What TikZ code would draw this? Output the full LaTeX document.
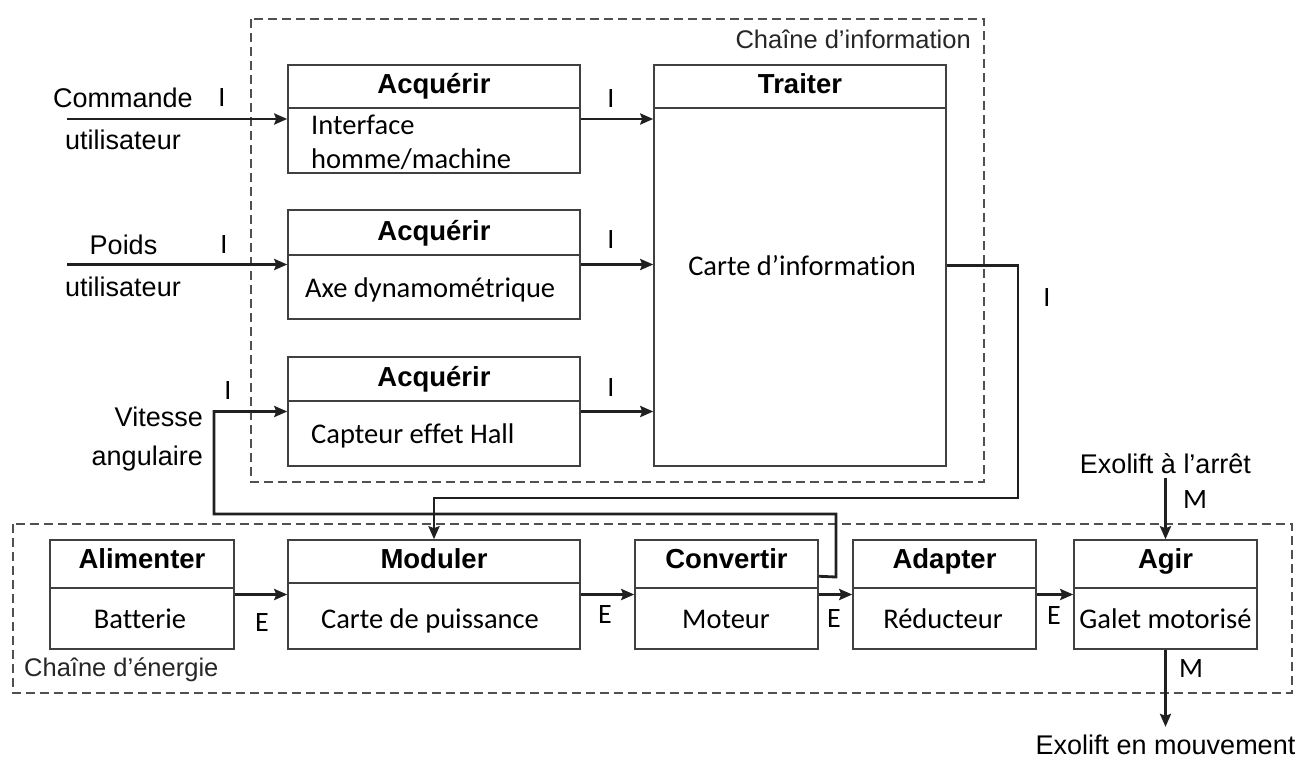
\documentclass[tikz,border=0pt]{standalone}
\usepackage{fontspec}
\setmainfont{Liberation Sans}
\newfontfamily\calfont[Ligatures=NoCommon]{Carlito}
\usetikzlibrary{arrows.meta,calc}
\definecolor{boxcol}{HTML}{404040}
\definecolor{arrcol}{HTML}{202020}
\definecolor{dashcol}{HTML}{505050}
\begin{document}
\begin{tikzpicture}[x=1pt,y=-1pt,
  blk/.style={draw=boxcol, line width=1.5pt, inner sep=0pt, fill=white},
  divl/.style={draw=boxcol, line width=1.5pt},
  ttl/.style={font=\fontsize{27.5}{32}\selectfont\bfseries, inner sep=0pt, anchor=base},
  body/.style={font=\calfont\fontsize{28.5}{34}\selectfont, inner sep=0pt, anchor=base},
  lbl/.style={font=\calfont\fontsize{28}{34}\selectfont, inner sep=0pt},
  ext/.style={font=\fontsize{27}{32}\selectfont, inner sep=0pt},
  chn/.style={font=\fontsize{25.5}{30}\selectfont, inner sep=0pt, text=black!85},
  arr/.style={draw=arrcol, line width=2.8pt, -{Stealth[length=13pt,width=11pt,inset=2pt]}},
  chain/.style={draw=dashcol, line width=1.5pt, dash pattern=on 9pt off 5pt}
]
\useasboundingbox (0,0) rectangle (1312,769);
\fill[white] (0,0) rectangle (1312,769);

% chain frames
\draw[chain] (251,19) rectangle (984,482);
\draw[chain] (13,524) rectangle (1292,693);
\node[chn, anchor=east] (ci) at (971,39) {Chaîne d’information};
\node[chn, anchor=west] (ce) at (24,670) {Chaîne d’énergie};

% information chain blocks
\node[blk, minimum width=292pt, minimum height=108pt] (a1) at (434,119) {};
\draw[divl] (a1.west |- 0,108) -- (a1.east |- 0,108);
\node[ttl] (a1t) at (434,93) {Acquérir};
\node[body, anchor=base west] (a1b) at (311,134) {Interface};
\node[body, anchor=base west] (a1c) at (311,168) {homme/machine};

\node[blk, minimum width=292pt, minimum height=109pt] (a2) at (434,264.5) {};
\draw[divl] (a2.west |- 0,255) -- (a2.east |- 0,255);
\node[ttl] (a2t) at (434,240) {Acquérir};
\node[body, anchor=base west] (a2b) at (305,297) {Axe dynamométrique};

\node[blk, minimum width=292pt, minimum height=109pt] (a3) at (434,411.5) {};
\draw[divl] (a3.west |- 0,401) -- (a3.east |- 0,401);
\node[ttl] (a3t) at (434,386) {Acquérir};
\node[body, anchor=base west] (a3b) at (311,443) {Capteur effet Hall};

\node[blk, minimum width=292pt, minimum height=401pt] (tr) at (800,265.5) {};
\draw[divl] (tr.west |- 0,108) -- (tr.east |- 0,108);
\node[ttl] (trt) at (800,93) {Traiter};
\node[body] (trb) at (802,275) {Carte d’information};

% energy chain blocks
\node[blk, minimum width=184pt, minimum height=109pt] (al) at (142,594.5) {};
\draw[divl] (al.west |- 0,588) -- (al.east |- 0,588);
\node[ttl] (alt) at (142,568) {Alimenter};
\node[body] (alb) at (140,628) {Batterie};

\node[blk, minimum width=292pt, minimum height=109pt] (mo) at (434,594.5) {};
\draw[divl] (mo.west |- 0,583) -- (mo.east |- 0,583);
\node[ttl] (mot) at (434,568) {Moduler};
\node[body] (mob) at (430,628) {Carte de puissance};

\node[blk, minimum width=183pt, minimum height=109pt] (cv) at (726.5,594.5) {};
\draw[divl] (cv.west |- 0,588) -- (cv.east |- 0,588);
\node[ttl] (cvt) at (726.5,568) {Convertir};
\node[body] (cvb) at (726,628) {Moteur};

\node[blk, minimum width=183pt, minimum height=109pt] (ad) at (944.5,594.5) {};
\draw[divl] (ad.west |- 0,588) -- (ad.east |- 0,588);
\node[ttl] (adt) at (944.5,568) {Adapter};
\node[body] (adb) at (943,628) {Réducteur};

\node[blk, minimum width=183pt, minimum height=109pt] (ag) at (1165.5,594.5) {};
\draw[divl] (ag.west |- 0,588) -- (ag.east |- 0,588);
\node[ttl] (agt) at (1165.5,568) {Agir};
\node[body] (agb) at (1165.5,628) {Galet motorisé};

% external texts
\node[ext] (cmd1) at (123,98) {Commande};
\node[ext] (cmd2) at (123,140) {utilisateur};
\node[ext] (pd1) at (123.5,245) {Poids};
\node[ext] (pd2) at (123,287) {utilisateur};
\node[ext, anchor=east] (vt1) at (203,417) {Vitesse};
\node[ext, anchor=east] (vt2) at (203,459) {angulaire};
\node[ext] (ea) at (1165.5,464) {Exolift à l’arrêt};
\node[ext] (em) at (1165.5,745) {Exolift en mouvement};

% coordinates
\coordinate (in1) at (67,119);
\coordinate (in2) at (67,264.5);
\coordinate (v0) at (836,577);
\coordinate (v1) at (836,514);
\coordinate (v2) at (214,514);
\coordinate (t1) at (1018,498);

% connectors
\draw[arr] (in1) -- (a1.west);
\draw[arr] (in2) -- (a2.west);
\draw[arr] (a1.east) -- (a1.east -| tr.west);
\draw[arr] (a2.east) -- (a2.east -| tr.west);
\draw[arr] (a3.east) -- (a3.east -| tr.west);
\draw[arr] ($(cv.north east)+(0,37)$) -- (v0) -- (v1) -- (v2) |- (a3.west);
\draw[arr] (tr.east) -| (t1) -| (mo.north);
\draw[arr] (al.east) -- (mo.west);
\draw[arr] (mo.east) -- (cv.west);
\draw[arr] (cv.east) -- (ad.west);
\draw[arr] (ad.east) -- (ag.west);
\draw[arr, shorten <=4pt] (ea.south) -- (ag.north);
\draw[arr, shorten >=8pt] (ag.south) -- (em.north);

% flow labels
\node[lbl] (l1) at (222,98) {I};
\node[lbl] (l2) at (224,245) {I};
\node[lbl] (l3) at (228,391) {I};
\node[lbl] (l4) at (611,99) {I};
\node[lbl] (l5) at (611,240) {I};
\node[lbl] (l6) at (611,388) {I};
\node[lbl] (l7) at (1047,298) {I};
\node[lbl] (e1) at (262,623) {E};
\node[lbl] (e2) at (605,615) {E};
\node[lbl] (e3) at (834,619) {E};
\node[lbl] (e4) at (1054,616) {E};
\node[lbl] (m1) at (1195,500) {M};
\node[lbl] (m2) at (1191,669) {M};
\end{tikzpicture}
\end{document}
